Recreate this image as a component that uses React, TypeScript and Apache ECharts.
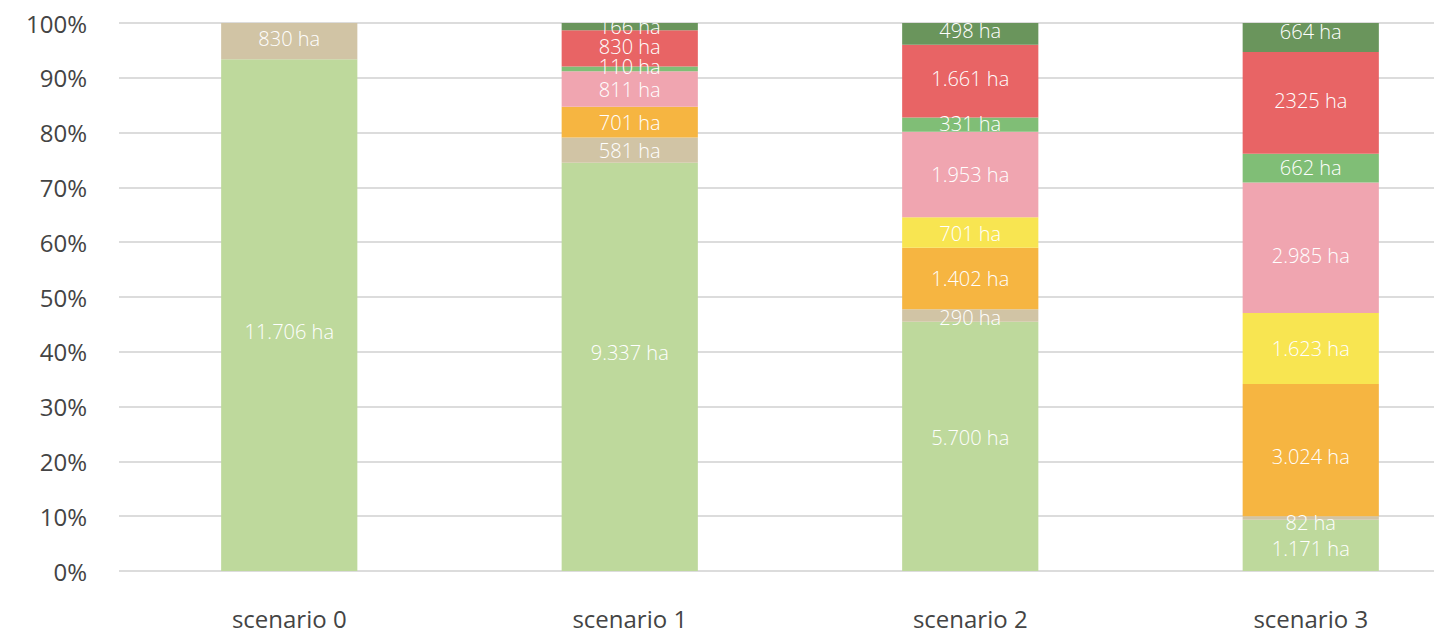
import React, { useEffect, useRef } from "react";
import * as echarts from "echarts";

const categories = ["scenario 0", "scenario 1", "scenario 2", "scenario 3"];
const yTicks = [0, 10, 20, 30, 40, 50, 60, 70, 80, 90, 100];

// hectares per land-use class, bottom to top of the stack
const lightGreen = [11706, 9337, 5700, 1171];
const tan = [830, 581, 290, 82];
const orange = [null, 701, 1402, 3024];
const yellow = [null, null, 701, 1623];
const pink = [null, 811, 1953, 2985];
const midGreen = [null, 110, 331, 662];
const red = [null, 830, 1661, 2325];
const darkGreen = [null, 166, 498, 664];

// label texts as printed in the chart
const lightGreenLabels = ["11.706 ha", "9.337 ha", "5.700 ha", "1.171 ha"];
const tanLabels = ["830 ha", "581 ha", "290 ha", "82 ha"];
const orangeLabels = ["", "701 ha", "1.402 ha", "3.024 ha"];
const yellowLabels = ["", "", "701 ha", "1.623 ha"];
const pinkLabels = ["", "811 ha", "1.953 ha", "2.985 ha"];
const midGreenLabels = ["", "110 ha", "331 ha", "662 ha"];
const redLabels = ["", "830 ha", "1.661 ha", "2325 ha"];
const darkGreenLabels = ["", "166 ha", "498 ha", "664 ha"];

// vertical nudges (px) of some labels, as placed in the original
const lightGreenNudge = [16, -14, -9, 3];
const orangeNudge = [0, 0, 0, 6];
const pinkNudge = [0, 0, 0, 8];
const darkGreenNudge = [0, 0, -3, -6];

const seriesDefs = [
  { name: "lightGreen", values: lightGreen, labels: lightGreenLabels, nudge: lightGreenNudge, color: "#bed99c" },
  { name: "tan", values: tan, labels: tanLabels, nudge: [-3, 0, 2, 4], color: "#d1c4a5" },
  { name: "orange", values: orange, labels: orangeLabels, nudge: orangeNudge, color: "#f6b541" },
  { name: "yellow", values: yellow, labels: yellowLabels, nudge: [0, 0, 1, 0], color: "#f8e551" },
  { name: "pink", values: pink, labels: pinkLabels, nudge: pinkNudge, color: "#f0a5b0" },
  { name: "midGreen", values: midGreen, labels: midGreenLabels, nudge: [0, -2, -1, -1], color: "#80be76" },
  { name: "red", values: red, labels: redLabels, nudge: [0, -2, -3, -2], color: "#e86465" },
  { name: "darkGreen", values: darkGreen, labels: darkGreenLabels, nudge: darkGreenNudge, color: "#6a955c" },
];

const FONT = "'Open Sans', Lato, sans-serif";

export default function App() {
  const ref = useRef<HTMLDivElement>(null);
  useEffect(() => {
    if (!ref.current) return;
    const chart = echarts.init(ref.current, undefined, { renderer: "svg" });
    const totals = categories.map((_, i) =>
      seriesDefs.reduce((s, d) => s + ((d.values[i] as number) || 0), 0)
    );
    chart.setOption({
      animation: false,
      grid: { left: 119, right: 0, top: 23, bottom: 66, containLabel: false },
      xAxis: {
        type: "category",
        data: categories,
        axisLine: { show: false },
        axisTick: { show: false },
        axisLabel: { color: "#444", fontSize: 24, fontFamily: FONT, margin: 35 },
      },
      yAxis: {
        type: "value",
        min: yTicks[0],
        max: yTicks[yTicks.length - 1],
        interval: 10,
        axisLine: { show: false },
        axisTick: { show: false },
        axisLabel: {
          color: "#444",
          fontSize: 24,
          fontFamily: FONT,
          margin: 32,
          formatter: (v: number) => v + "%",
        },
        splitLine: { lineStyle: { color: "#dcdcdc", width: 2 } },
      },
      series: seriesDefs.map((d) => ({
        type: "bar",
        name: d.name,
        stack: "total",
        barWidth: "40%",
        itemStyle: { color: d.color },
        data: d.values.map((v, i) =>
          v == null
            ? null
            : {
                value: (v / totals[i]) * 100,
                label: { offset: [0, d.nudge[i]] },
              }
        ),
        label: {
          show: true,
          position: "inside",
          color: "#fff",
          fontSize: 20,
          fontWeight: 300,
          fontFamily: FONT,
          formatter: (p: any) => d.labels[p.dataIndex],
        },
      })),
    });
    return () => chart.dispose();
  }, []);
  return (
    <div style={{ position: "fixed", left: 0, top: 0, width: 1434, height: 637, overflow: "hidden", background: "#fff" }}>
      <div ref={ref} style={{ width: 1481, height: 637 }} />
    </div>
  );
}
